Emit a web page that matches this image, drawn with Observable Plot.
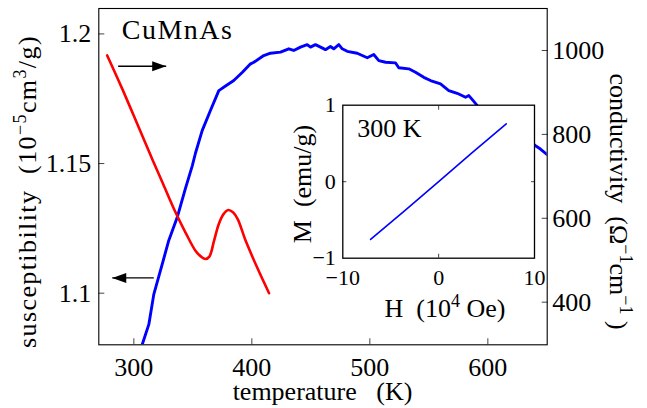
<!DOCTYPE html>
<html><head><meta charset="utf-8">
<script src="https://cdn.jsdelivr.net/npm/d3@7"></script>
<script src="https://cdn.jsdelivr.net/npm/@observablehq/plot@0.6"></script>
<style>
html,body{margin:0;padding:0;background:#fff;}
#chart{position:relative;width:647px;height:408px;overflow:hidden;}
#chart svg{position:absolute;}
</style></head><body><div id="chart"></div>
<script>
// ---- data ----
const suscT = [277.4, 290, 305, 315.6, 325, 335.3, 344, 352.2, 357, 360.7, 364, 368, 372, 376, 380, 384, 388, 394.7, 405, 414.6];
const suscV = [1.1917, 1.1790, 1.1630, 1.1517, 1.1419, 1.1312, 1.1232, 1.1164, 1.1141, 1.1132, 1.1141, 1.1203, 1.1267, 1.1305, 1.1321, 1.1312, 1.1286, 1.1203, 1.1094, 1.1000];

const condT = [306.5, 307.1, 312.7, 316.9, 324.0, 329.6, 336.7, 343.8, 349.5, 352.2, 357.9, 364.9, 372.0, 378.0, 384.7, 392.0, 398.9, 401.7, 410.1, 415.8, 424.3, 431.3, 435.5, 441.2, 446.9, 449.7, 453.9, 458.2, 462.4, 466.6, 469.4, 473.7, 476.6, 480.8, 489.3, 497.8, 503.3, 507.6, 513.3, 521.7, 524.5, 533.0, 538.7, 545.7, 551.4, 559.9, 566.9, 574.0, 581.1, 583.9, 588.1, 591.0, 605, 625, 640.4, 644.6, 650.3];
const condV = [290, 299, 347, 418.6, 490.3, 547.1, 601.7, 672, 725, 755, 809, 857, 904.4, 916, 928.3, 948, 968.2, 972, 988, 993.5, 996, 1004, 1000, 1008, 1014, 1008, 1014, 1008, 1002, 1009.5, 1004, 1014, 1004, 998, 993.5, 982.6, 990.4, 976, 972, 970.6, 958.7, 956.3, 948, 936, 928.3, 920.4, 904.4, 898, 888.4, 892.5, 878.8, 868.6, 840, 805, 773, 765, 751.5];

const fieldH = [-7.1, -3.5, 0, 3.5, 7.05];
const magM = [-0.755, -0.375, 0.0, 0.38, 0.757];

const xTicks = [300, 400, 500, 600];
const suscTicks = [1.1, 1.15, 1.2];
const condTicks = [400, 600, 800, 1000];
const insetXTicks = [-10, 0, 10];
const insetYTicks = [-1, 0, 1];

// annotation arrows (temperature of tail and tip, susceptibility level)
const arrowTail = [286.7, 316.9];
const arrowTip = [327.4, 281.7];
const arrowLevel = [1.1875, 1.1059];

// ---- scales ----
const xDomain = [270.3, 650.3];
const yDomain = [1.0801, 1.2098];
const condDomain = [298.4, 1100.1];
const toLeft = v => yDomain[0] + (v - condDomain[0]) / (condDomain[1] - condDomain[0]) * (yDomain[1] - yDomain[0]);
const fromLeft = y => condDomain[0] + (y - yDomain[0]) / (yDomain[1] - yDomain[0]) * (condDomain[1] - condDomain[0]);

const suscRows = suscT.map((t, i) => ({T: t, v: suscV[i]}));
const condRows = condT.map((t, i) => ({T: t, v: condV[i]}));
const insetRows = fieldH.map((h, i) => ({H: h, M: magM[i]}));
const arrows = arrowTail.map((t, i) => ({tail: t, tip: arrowTip[i], y: arrowLevel[i]}));

const FONT = '"Liberation Serif","Times New Roman",serif';
const headRight = {draw(c) { c.moveTo(0, 0); c.lineTo(-14, -5); c.lineTo(-14, 5); c.closePath(); }};
const headLeft = {draw(c) { c.moveTo(0, 0); c.lineTo(14, -5); c.lineTo(14, 5); c.closePath(); }};
const TICK = "#444";

const main = Plot.plot({
  width: 647, height: 408,
  marginLeft: 98.3, marginRight: 100.3, marginTop: 8, marginBottom: 63.7,
  x: {domain: xDomain},
  y: {domain: yDomain},
  style: {fontFamily: FONT, fontSize: "26px", background: "white", color: "black"},
  marks: [
    Plot.line(condRows, {x: "T", y: d => toLeft(d.v), stroke: "#0000ff", strokeWidth: 2.9, clip: true}),
    Plot.line(suscRows, {x: "T", y: "v", stroke: "#ff0000", strokeWidth: 2.6, curve: "catmull-rom", clip: true}),
    Plot.link(arrows, {x1: "tail", x2: "tip", y1: "y", y2: "y", stroke: "black", strokeWidth: 1.4}),
    Plot.dot(arrows, {filter: d => d.tip > d.tail, x: "tip", y: "y", symbol: headRight, fill: "black", stroke: "none", r: 5}),
    Plot.dot(arrows, {filter: d => d.tip < d.tail, x: "tip", y: "y", symbol: headLeft, fill: "black", stroke: "none", r: 5}),
    Plot.axisX({ticks: xTicks, tickSize: 6, dy: -6, tickFormat: () => "", label: null, stroke: TICK}),
    Plot.axisX({ticks: xTicks, tickSize: 0, tickPadding: 12.5, tickFormat: d => String(d), label: null}),
    Plot.axisY({anchor: "left", ticks: suscTicks, tickSize: 6, dx: 6, tickFormat: () => "", label: null, stroke: TICK}),
    Plot.axisY({anchor: "left", ticks: suscTicks, tickSize: 0, tickPadding: 7.6, tickFormat: d => String(d), label: null}),
    Plot.axisY({anchor: "right", ticks: condTicks.map(toLeft), tickSize: 6, dx: -6, tickFormat: () => "", label: null, stroke: TICK}),
    Plot.axisY({anchor: "right", ticks: condTicks.map(toLeft), tickSize: 0, tickPadding: 5, tickFormat: d => String(Math.round(fromLeft(d))), label: null}),
    Plot.frame({stroke: "black", strokeWidth: 1.1})
  ]
});

const inset = Plot.plot({
  width: 300, height: 240,
  marginLeft: 62.3, marginRight: 46, marginTop: 14.7, marginBottom: 72.3,
  x: {domain: [-10, 10]},
  y: {domain: [-1, 1]},
  style: {fontFamily: FONT, fontSize: "22px", background: "none", overflow: "visible", color: "black"},
  marks: [
    Plot.frame({fill: "white", stroke: "none"}),
    Plot.line(insetRows, {x: "H", y: "M", stroke: "#0000ff", strokeWidth: 1.6}),
    Plot.axisX({anchor: "bottom", ticks: [0], tickSize: 4, dy: -4, tickFormat: () => "", label: null, stroke: TICK}),
    Plot.axisX({anchor: "top", ticks: [0], tickSize: 4, dy: 4, tickFormat: () => "", label: null, stroke: TICK}),
    Plot.axisY({anchor: "left", ticks: [0], tickSize: 4, dx: 4, tickFormat: () => "", label: null, stroke: TICK}),
    Plot.axisY({anchor: "right", ticks: [0], tickSize: 4, dx: -4, tickFormat: () => "", label: null, stroke: TICK}),
    Plot.axisX({ticks: insetXTicks, tickSize: 0, tickPadding: 11.5, tickFormat: d3.format("d"), label: null}),
    Plot.axisY({ticks: insetYTicks, tickSize: 0, tickPadding: 7, tickFormat: d3.format("d"), label: null}),
    Plot.frame({stroke: "black", strokeWidth: 1.3}),
    Plot.text(["300 K"], {frameAnchor: "top-left", dx: 14.4, dy: 23.7, textAnchor: "start", lineAnchor: "middle", fontSize: 26})
  ]
});

function addLabel(svg, x, y, rot, parts, size, supSize, shift, anchor = "middle", spacing = 0) {
  const t = d3.select(svg).append("text")
    .attr("transform", `translate(${x},${y}) rotate(${rot})`)
    .attr("text-anchor", anchor)
    .attr("font-family", FONT)
    .attr("font-size", size)
    .attr("letter-spacing", spacing)
    .attr("fill", "black");
  let up = false;
  for (const [s, sup] of parts) {
    const sp = t.append("tspan").text(s);
    if (sup && !up) { sp.attr("dy", -shift).attr("font-size", supSize); up = true; }
    else if (!sup && up) { sp.attr("dy", shift); up = false; }
    else if (sup) sp.attr("font-size", supSize);
  }
}

addLabel(main, 121.7, 39.3, 0, [["CuMnAs", false]], 28, 18, 10, "start", 1.5);
addLabel(main, 322.5, 400, 0, [["temperature\u00a0\u00a0\u00a0(K)", false]], 26, 18, 10);
addLabel(main, 36, 191.5, -90, [["susceptibility\u00a0\u00a0(10", false], ["\u22125", true], ["cm", false], ["3", true], ["/g)", false]], 26, 18, 10, "middle", 1.4);
addLabel(main, 610, 201.5, 90, [["conductivity\u00a0\u00a0(\u03a9", false], ["\u22121", true], ["cm", false], ["\u22121", true], ["\u00a0)", false]], 26, 18, 10);
addLabel(inset, 165, 226.7, 0, [["H\u00a0\u00a0(10", false], ["4", true], ["\u00a0Oe)", false]], 26, 18, 10);
addLabel(inset, 31, 94, -90, [["M\u00a0\u00a0(emu/g)", false]], 26, 18, 10);

main.style.left = "0px"; main.style.top = "0px";
inset.style.left = "280px"; inset.style.top = "90px";
const chart = document.getElementById("chart");
chart.appendChild(main);
chart.appendChild(inset);
</script>
</body></html>
